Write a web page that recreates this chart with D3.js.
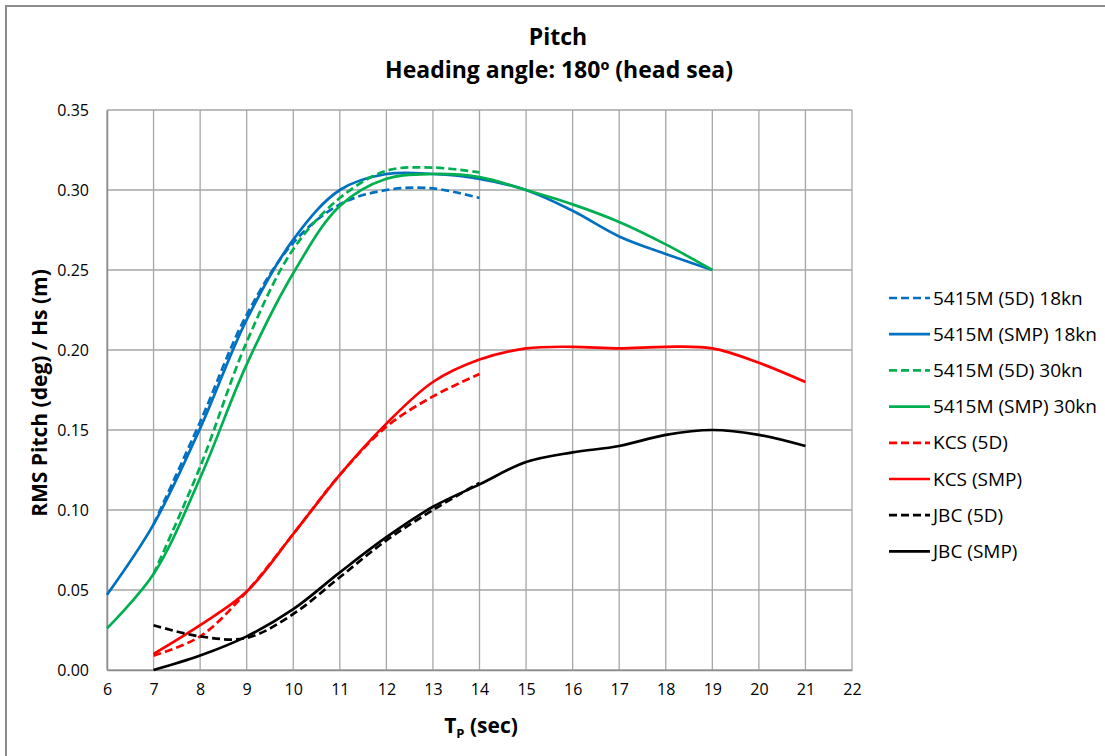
<!DOCTYPE html>
<html>
<head>
<meta charset="utf-8">
<script src="https://cdn.jsdelivr.net/npm/d3@7"></script>
<style>
  body { margin: 0; background: #fff; }
  svg text { font-family: "Open Sans", sans-serif; fill: #000; }
</style>
</head>
<body>
<div id="chart"></div>
<script>
var width = 1105;
var height = 756;

margin = { top: 110, right: 253, bottom: 86, left: 107 };

// wave period Tp (sec)
var tpShort = [7, 8, 9, 10, 11, 12, 13, 14];
var tpLong = [6, 7, 8, 9, 10, 11, 12, 13, 14, 15, 16, 17, 18, 19];
var tpKcs = [7, 8, 9, 10, 11, 12, 13, 14, 15, 16, 17, 18, 19, 20, 21];

var m18_5d = [0.091, 0.155, 0.222, 0.267, 0.291, 0.300, 0.301, 0.295];
var m18_smp = [0.047, 0.091, 0.151, 0.219, 0.269, 0.300, 0.310, 0.310, 0.307, 0.300, 0.287, 0.271, 0.260, 0.250];
var m30_5d = [0.060, 0.127, 0.205, 0.263, 0.295, 0.312, 0.314, 0.311];
var m30_smp = [0.026, 0.060, 0.120, 0.191, 0.248, 0.290, 0.307, 0.310, 0.308, 0.300, 0.291, 0.280, 0.266, 0.250];
var kcs_5d = [0.009, 0.021, 0.049, 0.085, 0.122, 0.152, 0.171, 0.185];
var kcs_smp = [0.010, 0.028, 0.049, 0.085, 0.122, 0.154, 0.180, 0.194, 0.201, 0.202, 0.201, 0.202, 0.201, 0.192, 0.180];
var jbc_5d = [0.028, 0.021, 0.020, 0.035, 0.058, 0.081, 0.100, 0.117];
var jbc_smp = [0.000, 0.009, 0.021, 0.038, 0.061, 0.083, 0.102, 0.116, 0.130, 0.136, 0.140, 0.147, 0.150, 0.147, 0.140];

var seriesNames = ["5415M (5D) 18kn", "5415M (SMP) 18kn", "5415M (5D) 30kn", "5415M (SMP) 30kn",
  "KCS (5D)", "KCS (SMP)", "JBC (5D)", "JBC (SMP)"];
var seriesX = [tpShort, tpLong, tpShort, tpLong, tpShort, tpKcs, tpShort, tpKcs];
var seriesY = [m18_5d, m18_smp, m30_5d, m30_smp, kcs_5d, kcs_smp, jbc_5d, jbc_smp];
var seriesColor = ["#0070C0", "#0070C0", "#00B050", "#00B050", "#FF0000", "#FF0000", "#000000", "#000000"];
var seriesDashed = [true, false, true, false, true, false, true, false];

var xTicks = d3.range(6, 23, 1);
var yTicks = [0, 0.05, 0.10, 0.15, 0.20, 0.25, 0.30, 0.35];

var svg = d3.select("#chart")
  .append("svg")
  .attr("width", width)
  .attr("height", height);

// chart area border
svg.append("rect")
  .attr("x", 6).attr("y", 6)
  .attr("width", width + 10).attr("height", height + 10)
  .attr("fill", "none")
  .attr("stroke", "#8c8c8c")
  .attr("stroke-width", 2);

var x = d3.scaleLinear().domain([6, 22]).range([margin.left, width - margin.right]);
var y = d3.scaleLinear().domain([0, 0.35]).range([height - margin.bottom, margin.top]);

// gridlines
svg.append("g")
  .selectAll("line")
  .data(xTicks)
  .join("line")
  .attr("x1", (d) => x(d)).attr("x2", (d) => x(d))
  .attr("y1", y(0)).attr("y2", y(0.35))
  .attr("stroke", "#a6a6a6")
  .attr("stroke-width", 1.3);

svg.append("g")
  .selectAll("line")
  .data(yTicks)
  .join("line")
  .attr("x1", x(6)).attr("x2", x(22))
  .attr("y1", (d) => y(d)).attr("y2", (d) => y(d))
  .attr("stroke", "#a6a6a6")
  .attr("stroke-width", 1.3);

// axes
var xAxis = svg.append("g")
  .attr("transform", `translate(0,${y(0)})`)
  .call(d3.axisBottom(x).tickValues(xTicks).tickFormat(d3.format("d")).tickSize(0).tickPadding(14));
xAxis.select(".domain").attr("stroke", "#8c8c8c").attr("stroke-width", 1.5);
xAxis.selectAll("text").style("font-size", "16px");

var yAxis = svg.append("g")
  .attr("transform", `translate(${x(6)},0)`)
  .call(d3.axisLeft(y).tickValues(yTicks).tickFormat(d3.format(".2f")).tickSize(0).tickPadding(18));
yAxis.select(".domain").attr("stroke", "#8c8c8c").attr("stroke-width", 1.5);
yAxis.selectAll("text").style("font-size", "16px");

// lines
var line = d3.line()
  .x((d) => x(d[0]))
  .y((d) => y(d[1]))
  .curve(d3.curveCatmullRom.alpha(0.5));

seriesNames.forEach((name, i) => {
  var pts = seriesX[i].map((t, j) => [t, seriesY[i][j]]);
  svg.append("path")
    .datum(pts)
    .attr("d", line)
    .attr("fill", "none")
    .attr("stroke", seriesColor[i])
    .attr("stroke-width", 2.7)
    .attr("stroke-dasharray", seriesDashed[i] ? "8,4" : null);
});

// titles
svg.append("text")
  .attr("x", 558).attr("y", 45)
  .attr("text-anchor", "middle")
  .style("font-size", "23px").style("font-weight", "bold")
  .text("Pitch");
svg.append("text")
  .attr("x", 559).attr("y", 78)
  .attr("text-anchor", "middle")
  .style("font-size", "23px").style("font-weight", "bold")
  .text("Heading angle: 180º (head sea)");

var xt = svg.append("text")
  .attr("x", 481).attr("y", 733)
  .attr("text-anchor", "middle")
  .style("font-size", "21px").style("font-weight", "bold");
xt.append("tspan").text("T");
xt.append("tspan").attr("dy", 5).style("font-size", "13px").text("P");
xt.append("tspan").attr("dy", -5).text(" (sec)");

svg.append("text")
  .attr("transform", `translate(47,393) rotate(-90)`)
  .attr("text-anchor", "middle")
  .style("font-size", "21px").style("font-weight", "bold")
  .text("RMS Pitch (deg) / Hs (m)");

// legend
var legend = svg.append("g")
  .selectAll("g")
  .data(seriesNames)
  .join("g")
  .attr("transform", (d, i) => `translate(889,${298 + i * 36.2})`);

legend.append("line")
  .attr("x1", 0).attr("x2", 41)
  .attr("stroke", (d, i) => seriesColor[i])
  .attr("stroke-width", 2.7)
  .attr("stroke-dasharray", (d, i) => seriesDashed[i] ? "8,4" : null);

legend.append("text")
  .attr("x", 44).attr("dy", "0.35em")
  .style("font-size", "19px")
  .text((d) => d);
</script>
</body>
</html>
